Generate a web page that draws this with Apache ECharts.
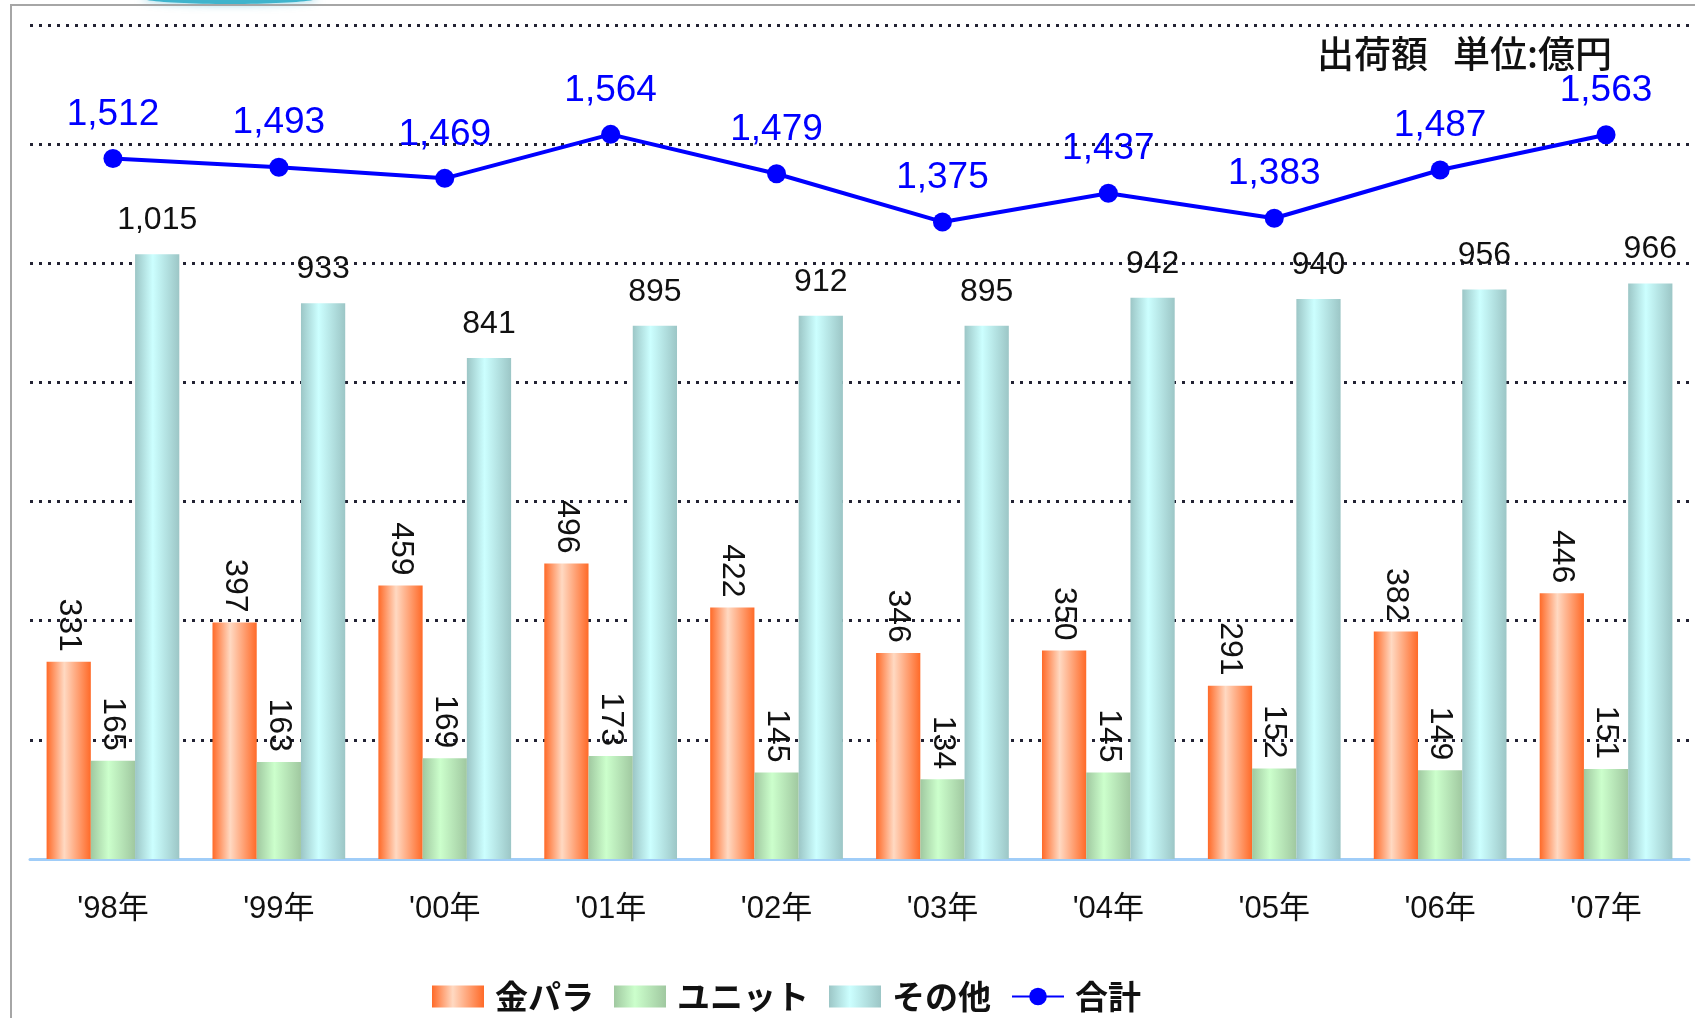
<!DOCTYPE html>
<html>
<head>
<meta charset="utf-8">
<script src="https://cdn.jsdelivr.net/npm/echarts@6/dist/echarts.min.js"></script>
<style>
html,body{margin:0;padding:0;background:#fff;}
#chart{width:1695px;height:1018px;}
</style>
</head>
<body>
<div id="chart"></div>
<script>
var years = ["'98年","'99年","'00年","'01年","'02年","'03年","'04年","'05年","'06年","'07年"];
var kinpara = [331,397,459,496,422,346,350,291,382,446];
var unit = [165,163,169,173,145,134,145,152,149,151];
var other = [1015,933,841,895,912,895,942,940,956,966];
var total = [1512,1493,1469,1564,1479,1375,1437,1383,1487,1563];

var numFont = "'Liberation Sans','Noto Sans CJK JP',sans-serif";
var jpFont = "'Noto Sans CJK JP',sans-serif";

function barGrad(edge, mid) {
	return new echarts.graphic.LinearGradient(0, 0, 1, 0, [
		{offset: 0, color: edge},
		{offset: 0.4, color: mid},
		{offset: 1, color: edge}
	]);
}

function comma(p) {
	return p.value.toLocaleString('en-US');
}

var sideLabel = {
	show: true,
	position: 'top',
	rotate: -90,
	align: 'right',
	verticalAlign: 'middle',
	distance: 10,
	color: '#111',
	fontSize: 32,
	fontFamily: numFont
};

var myChart = echarts.init(document.getElementById('chart'));

var option = {
	animation: false,
	title: {
		text: '出荷額   単位:億円',
		right: 78,
		top: 30,
		textStyle: {
			color: '#111',
			fontSize: 37,
			fontWeight: 500,
			fontFamily: jpFont
		}
	},
	legend: {
		left: 427,
		top: 975,
		itemWidth: 52,
		itemHeight: 22,
		itemGap: 20,
		textStyle: {
			color: '#111',
			fontSize: 33,
			fontWeight: 'bold',
			fontFamily: jpFont,
			padding: [0, 0, 0, 6]
		},
		data: [
			{name: '金パラ', icon: 'rect'},
			{name: 'ユニット', icon: 'rect'},
			{name: 'その他', icon: 'rect'},
			'合計'
		]
	},
	grid: {
		left: 30,
		right: 6,
		top: 25,
		bottom: 159
	},
	xAxis: {
		type: 'category',
		data: years,
		axisTick: {show: false},
		axisLine: {
			lineStyle: {color: '#a0cdf8', width: 3}
		},
		axisLabel: {
			color: '#111',
			fontSize: 31,
			fontFamily: numFont,
			margin: 35
		}
	},
	yAxis: [{
		type: 'value',
		min: 0,
		max: 1400,
		interval: 200,
		axisLabel: {show: false},
		axisLine: {show: false},
		axisTick: {show: false},
		splitLine: {
			show: true,
			lineStyle: {type: [3, 6], color: '#223', width: 3}
		}
	}, {
		type: 'value',
		min: 0,
		max: 1800,
		show: false,
		splitLine: {show: false}
	}],
	series: [{
		name: '金パラ',
		type: 'bar',
		barGap: '0%',
		barCategoryGap: '20%',
		data: kinpara,
		itemStyle: {color: barGrad('#ff6a28', '#ffd9c2')},
		label: sideLabel
	}, {
		name: 'ユニット',
		type: 'bar',
		data: unit,
		itemStyle: {color: barGrad('#a0c8a0', '#ccffcc')},
		label: sideLabel
	}, {
		name: 'その他',
		type: 'bar',
		data: other,
		itemStyle: {color: barGrad('#9cc6c6', '#ccffff')},
		label: {
			show: true,
			position: 'top',
			distance: 18,
			color: '#111',
			fontSize: 32,
			fontFamily: numFont,
			formatter: comma
		}
	}, {
		name: '合計',
		type: 'line',
		yAxisIndex: 1,
		data: total,
		symbol: 'circle',
		symbolSize: 19,
		itemStyle: {color: '#0000ff'},
		lineStyle: {color: '#0000ff', width: 4},
		label: {
			show: true,
			position: 'top',
			distance: 16,
			color: '#0000ff',
			fontSize: 37,
			fontFamily: numFont,
			formatter: comma
		},
		z: 5
	}],
	graphic: [{
		type: 'ellipse',
		shape: {cx: 230, cy: -2, rx: 88, ry: 6},
		style: {fill: '#3fb4cc', shadowBlur: 8, shadowColor: 'rgba(60,180,210,0.6)'}
	}, {
		type: 'polyline',
		shape: {points: [[11, 1018], [11, 5], [1695, 5]]},
		style: {stroke: '#a6a6a6', lineWidth: 2, fill: null}
	}]
};

myChart.setOption(option);
</script>
</body>
</html>
